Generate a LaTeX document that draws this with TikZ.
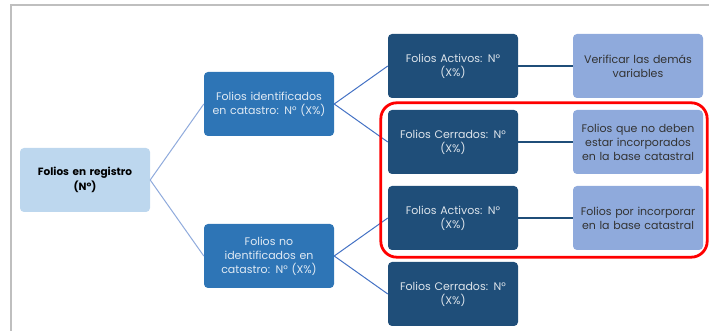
\documentclass[tikz,border=0pt]{standalone}
\usepackage{fontspec}
\setmainfont{Poppins}
\usetikzlibrary{trees}
\definecolor{rootblue}{HTML}{BDD7EE}
\definecolor{midblue}{HTML}{2E75B6}
\definecolor{darkblue}{HTML}{1F4E79}
\definecolor{paleblue}{HTML}{8FAADC}
\definecolor{lineblue}{HTML}{4472C4}
\definecolor{framegray}{HTML}{BFBFBF}
\begin{document}
\begin{tikzpicture}[
    x=1pt, y=1pt,
    grow'=right,
    every node/.style={rectangle, rounded corners=4pt, minimum width=130pt, minimum height=64pt,
      inner sep=2pt, text width=126pt, align=center, font=\fontsize{11}{14}\selectfont},
    edge from parent/.style={draw},
    level 1/.style={sibling distance=152pt, level distance=184pt,
      edge from parent/.style={draw=paleblue, line width=1pt}},
    level 2/.style={sibling distance=76pt, level distance=184pt,
      edge from parent/.style={draw=lineblue, line width=1pt}},
    level 3/.style={level distance=185pt,
      edge from parent/.style={draw=darkblue, line width=1.5pt}},
    parent anchor=east, child anchor=west,
    raiz/.style={fill=rootblue, font=\fontsize{10.5}{15}\selectfont\bfseries},
    grupo/.style={fill=midblue, text=white!85!midblue},
    estado/.style={fill=darkblue, text=white!85!darkblue},
    accion/.style={fill=paleblue, text=black!80}
  ]
  \useasboundingbox (0,0) rectangle (709,331);
  \draw[framegray, line width=1.5pt] (11,0) -- (11,326) -- (709,326);
  \node[raiz] (reg) at (85,151) {Folios en registro\\(N°)}
    child { node[grupo] (ident) {Folios identificados\\en catastro: N° (X\%)}
      child { node[estado] (act1) {Folios Activos: N°\\(X\%)}
        child { node[accion] (verif) {Verificar las demás\\variables} }
      }
      child { node[estado] (cer1) {Folios Cerrados: N°\\(X\%)}
        child { node[accion] (nodeben) {Folios que no deben\\estar incorporados\\en la base catastral} }
      }
    }
    child { node[grupo] (noident) {Folios no\\identificados en\\catastro: N° (X\%)}
      child { node[estado] (act2) {Folios Activos: N°\\(X\%)}
        child { node[accion] (incorp) {Folios por incorporar\\en la base catastral} }
      }
      child { node[estado] (cer2) {Folios Cerrados: N°\\(X\%)} }
    };
  \draw[red, line width=2.8pt, rounded corners=16pt]
    ([xshift=-7pt, yshift=7pt]cer1.north west) rectangle ([xshift=4pt, yshift=-7pt]incorp.south east);
\end{tikzpicture}
\end{document}
